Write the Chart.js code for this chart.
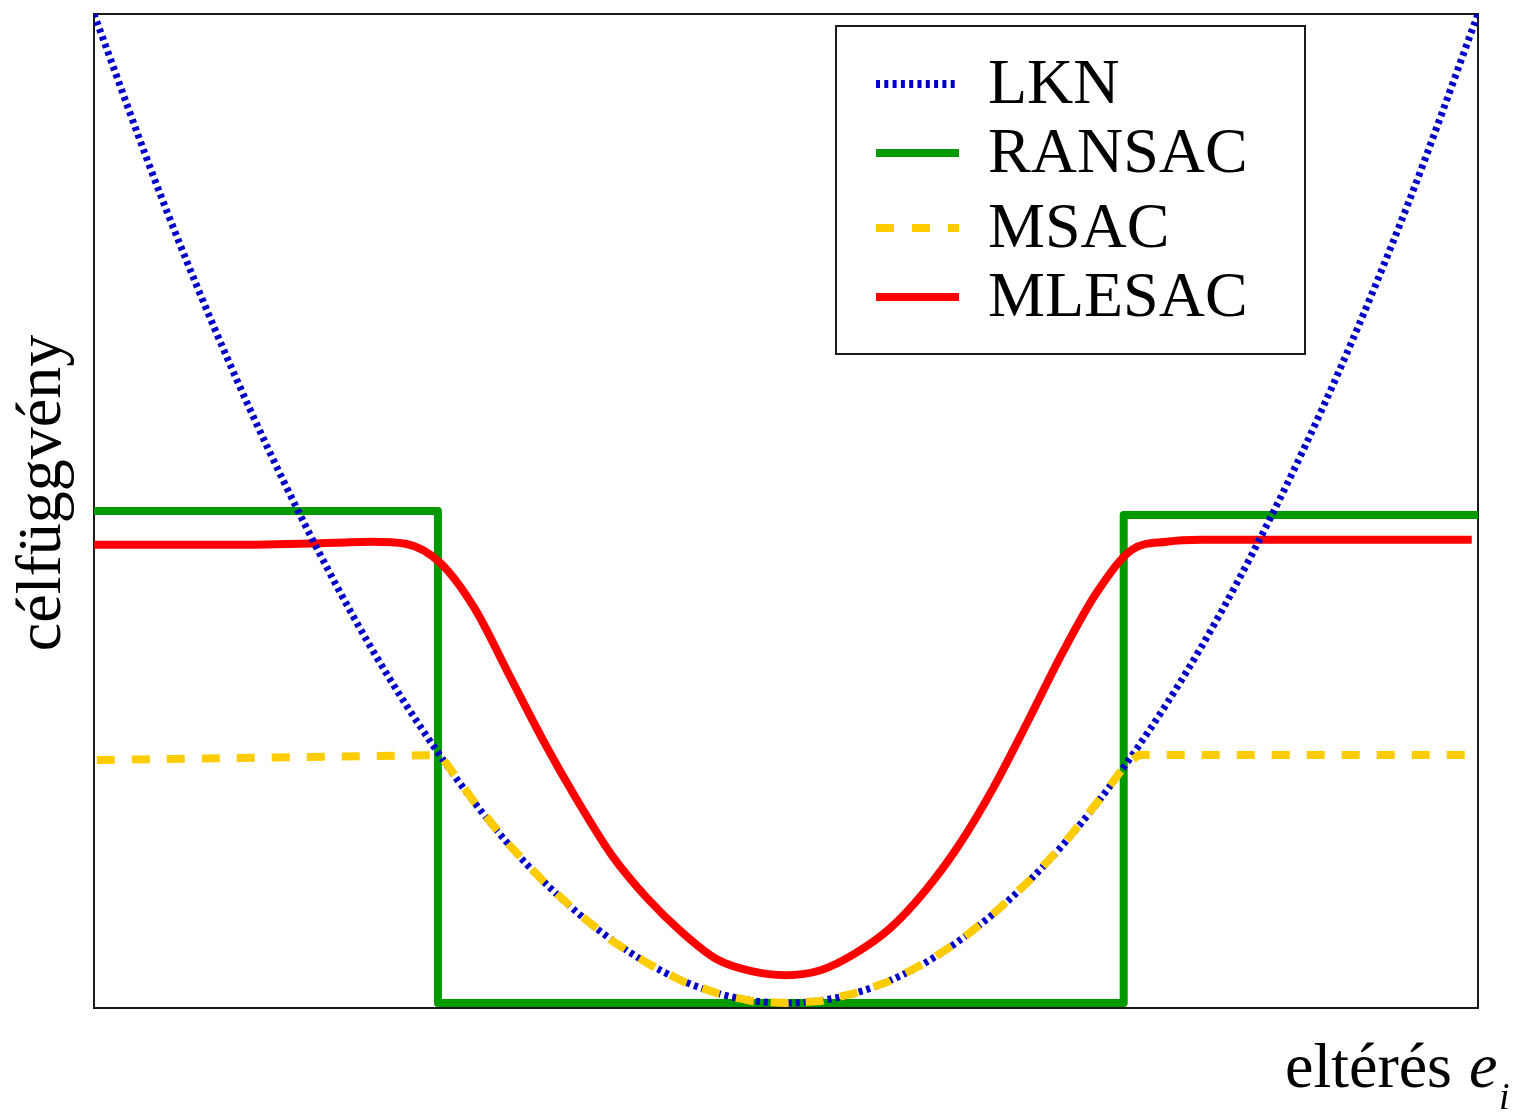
<!DOCTYPE html>
<html>
<head>
<meta charset="utf-8">
<script src="https://cdn.jsdelivr.net/npm/chart.js@4.4.1/dist/chart.umd.min.js"></script>
<style>
  html, body { margin: 0; padding: 0; background: #fff; }
  canvas { display: block; }
</style>
</head>
<body>
<canvas id="costChart" width="1515" height="1112"></canvas>
<script>
// értékek (x: eltérés, -1..1; y: célfüggvény, 0..1)
const lknX = [-1, -0.9, -0.8, -0.7, -0.6, -0.5, -0.4, -0.3, -0.2, -0.1, 0, 0.1, 0.2, 0.3, 0.4, 0.5, 0.6, 0.7, 0.8, 0.9, 1];
const lknY = [1.0, 0.811, 0.642, 0.493, 0.363, 0.254, 0.164, 0.095, 0.045, 0.015, 0.005, 0.015, 0.045, 0.095, 0.164, 0.254, 0.363, 0.493, 0.642, 0.811, 1.0];

const ransacX = [-1, -0.503, -0.503, 0.488, 0.488, 1.003];
const ransacY = [0.5, 0.5, 0.005, 0.005, 0.496, 0.496];

const msacX = [-0.996, -0.5, -0.45, -0.4, -0.35, -0.3, -0.25, -0.2, -0.15, -0.1, -0.05, 0, 0.05, 0.1, 0.15, 0.2, 0.25, 0.3, 0.35, 0.4, 0.45, 0.49, 0.51, 0.991];
const msacY = [0.2495, 0.2545, 0.207, 0.164, 0.127, 0.095, 0.067, 0.045, 0.027, 0.015, 0.007, 0.005, 0.007, 0.015, 0.027, 0.045, 0.067, 0.095, 0.127, 0.164, 0.207, 0.244, 0.2545, 0.2545];

const mlesacX = [-1.0, -0.8, -0.65, -0.6, -0.55, -0.5, -0.45, -0.4, -0.35, -0.3, -0.25, -0.2, -0.15, -0.1, -0.05, 0,
                 0.05, 0.1, 0.15, 0.2, 0.25, 0.3, 0.35, 0.4, 0.45, 0.5, 0.55, 0.6, 0.75, 0.991];
const mlesacY = [0.466, 0.466, 0.468, 0.469, 0.467, 0.448, 0.402, 0.335, 0.268, 0.207, 0.152, 0.110, 0.076, 0.049, 0.037, 0.033,
                 0.038, 0.055, 0.080, 0.117, 0.164, 0.222, 0.289, 0.358, 0.419, 0.461, 0.469, 0.471, 0.471, 0.471];

const seriesNames = ["LKN", "RANSAC", "MSAC", "MLESAC"];
const yTitle = "célfüggvény";
const xTitle = "eltérés";

function pts(xs, ys) {
  return xs.map(function (x, i) { return { x: x, y: ys[i] }; });
}

const serif = "'Liberation Serif', 'Times New Roman', serif";

// keret, tengelyfeliratok, jelmagyarázat
const decorPlugin = {
  id: "decor",
  beforeDatasetsDraw: function (chart) {
    const a = chart.chartArea;
    const ctx = chart.ctx;
    ctx.save();
    ctx.strokeStyle = "#1a1a1a";
    ctx.lineWidth = 2;
    ctx.strokeRect(a.left, a.top, a.right - a.left, a.bottom - a.top);
    ctx.restore();
  },
  afterDatasetsDraw: function (chart) {
    const ctx = chart.ctx;
    ctx.save();

    // y tengely felirat
    ctx.fillStyle = "#000";
    ctx.font = "64px " + serif;
    ctx.textAlign = "center";
    ctx.textBaseline = "alphabetic";
    ctx.translate(60, 493);
    ctx.rotate(-Math.PI / 2);
    ctx.fillText(yTitle, 0, 0);
    ctx.setTransform(1, 0, 0, 1, 0, 0);

    // x tengely felirat
    ctx.textAlign = "left";
    ctx.font = "64px " + serif;
    ctx.fillText(xTitle, 1285, 1087);
    ctx.font = "italic 64px " + serif;
    ctx.fillText("e", 1469, 1087);
    ctx.font = "italic 38px " + serif;
    ctx.fillText("i", 1499, 1109);

    // jelmagyarázat
    ctx.fillStyle = "#fff";
    ctx.fillRect(836, 26, 469, 328);
    ctx.strokeStyle = "#1a1a1a";
    ctx.lineWidth = 2;
    ctx.strokeRect(836, 26, 469, 328);

    const rows = [84, 153, 228, 297];
    chart.data.datasets.forEach(function (ds, i) {
      const y = rows[i];
      ctx.beginPath();
      ctx.strokeStyle = ds.borderColor;
      ctx.lineWidth = 8;
      ctx.lineCap = "butt";
      ctx.setLineDash(ds.legendDash || []);
      ctx.moveTo(876, y);
      ctx.lineTo(959, y);
      ctx.stroke();
      ctx.setLineDash([]);
      ctx.fillStyle = "#000";
      ctx.font = "64px " + serif;
      ctx.fillText(ds.label, 988, y + 19);
    });
    ctx.restore();
  }
};

new Chart(document.getElementById("costChart").getContext("2d"), {
  type: "line",
  data: {
    datasets: [
      {
        label: seriesNames[0],
        data: pts(lknX, lknY),
        borderColor: "#0000c8",
        borderWidth: 7,
        borderDash: [4, 4],
        legendDash: [4, 4.3],
        cubicInterpolationMode: "monotone",
        order: 2
      },
      {
        label: seriesNames[1],
        data: pts(ransacX, ransacY),
        borderColor: "#009900",
        borderWidth: 8,
        tension: 0,
        borderJoinStyle: "round",
        borderCapStyle: "round",
        order: 4
      },
      {
        label: seriesNames[2],
        data: pts(msacX, msacY),
        borderColor: "#ffcc00",
        borderWidth: 8,
        borderDash: [18, 17],
        legendDash: [18, 18],
        tension: 0,
        order: 1
      },
      {
        label: seriesNames[3],
        data: pts(mlesacX, mlesacY),
        borderColor: "#ff0000",
        borderWidth: 8,
        cubicInterpolationMode: "monotone",
        order: 3
      }
    ]
  },
  options: {
    responsive: false,
    animation: false,
    events: [],
    layout: { padding: { left: 94, right: 37, top: 14, bottom: 104 } },
    elements: { point: { radius: 0 } },
    scales: {
      x: { type: "linear", min: -1, max: 1, display: false },
      y: { type: "linear", min: 0, max: 1, display: false }
    },
    plugins: {
      legend: { display: false },
      tooltip: { enabled: false }
    }
  },
  plugins: [decorPlugin]
});
</script>
</body>
</html>
